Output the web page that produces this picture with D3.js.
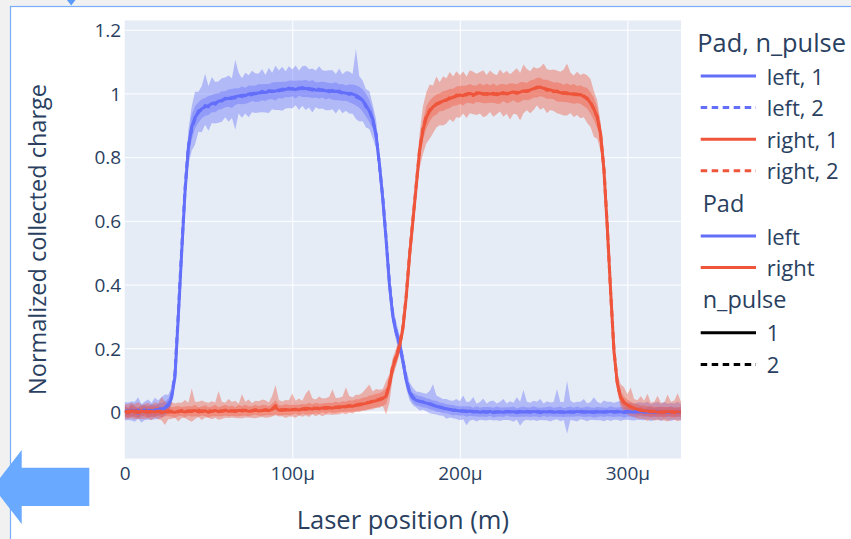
<!DOCTYPE html>
<html>
<head>
<meta charset="utf-8">
<script src="https://cdn.jsdelivr.net/npm/d3@7"></script>
<style>
  html, body { margin: 0; padding: 0; background: #f1f1f1; }
  svg { display: block; font-family: "Open Sans", "DejaVu Sans", sans-serif; }
</style>
</head>
<body>
<svg id="chart" width="851" height="539"></svg>
<script>
// Laser scan: one sample every 2 µm, from 0 to 332 µm.
const scanStepUm = 2;

// Pad "left", n_pulse 1: mean normalized charge and symmetric spread.
const leftMean1 = [
  0.004, -0.003, 0.006, 0.002, -0.004, 0.003, 0.007, 0.001, 0.005, 0.004,
  0.008, 0.01, 0.012, 0.02, 0.045, 0.11, 0.3, 0.5, 0.69, 0.83,
  0.895, 0.925, 0.94, 0.952, 0.958, 0.962, 0.968, 0.97, 0.975, 0.979,
  0.982, 0.985, 0.984, 0.99, 0.992, 0.994, 0.993, 0.998, 1.0, 0.999,
  1.002, 1.004, 1.003, 1.006, 1.008, 1.007, 1.011, 1.01, 1.013, 1.014,
  1.016, 1.012, 1.017, 1.015, 1.016, 1.013, 1.014, 1.011, 1.01, 1.012,
  1.008, 1.009, 1.006, 1.007, 1.004, 1.003, 1.001, 1.0, 0.998, 0.994,
  0.988, 0.978, 0.963, 0.945, 0.92, 0.87, 0.78, 0.67, 0.54, 0.4,
  0.3, 0.25, 0.215, 0.16, 0.1, 0.062, 0.044, 0.037, 0.034, 0.031,
  0.028, 0.025, 0.021, 0.018, 0.015, 0.012, 0.01, 0.008, 0.006, 0.005,
  0.003, 0.004, 0.001, 0.003, 0.0, 0.002, -0.001, 0.001, 0.0, 0.002,
  -0.002, 0.001, 0.0, -0.001, 0.002, 0.0, 0.001, -0.002, 0.0, 0.001,
  0.0, -0.001, 0.002, 0.0, -0.002, 0.001, 0.0, 0.002, -0.001, 0.0,
  0.001, -0.002, 0.0, 0.001, -0.001, 0.002, 0.0, -0.001, 0.001, 0.0,
  -0.002, 0.0, 0.001, -0.001, 0.0, 0.002, -0.001, 0.0, 0.001, -0.002,
  0.0, 0.001, -0.001, 0.0, 0.002, -0.001, 0.0, 0.001, -0.002, 0.0,
  0.001, 0.0, -0.001, 0.002, 0.0, -0.001, 0.001
];
const leftSpread1 = [
  0.018, 0.015, 0.02, 0.017, 0.016, 0.019, 0.015, 0.018, 0.02, 0.017,
  0.019, 0.018, 0.02, 0.022, 0.02, 0.018, 0.018, 0.02, 0.025, 0.035,
  0.04, 0.035, 0.032, 0.03, 0.028, 0.03, 0.027, 0.029, 0.026, 0.028,
  0.025, 0.027, 0.03, 0.026, 0.024, 0.028, 0.025, 0.027, 0.024, 0.026,
  0.028, 0.025, 0.027, 0.024, 0.026, 0.029, 0.025, 0.027, 0.024, 0.026,
  0.025, 0.028, 0.024, 0.026, 0.027, 0.025, 0.028, 0.024, 0.026, 0.025,
  0.027, 0.024, 0.026, 0.028, 0.025, 0.027, 0.024, 0.028, 0.03, 0.032,
  0.033, 0.035, 0.036, 0.035, 0.03, 0.025, 0.02, 0.018, 0.018, 0.018,
  0.018, 0.018, 0.02, 0.02, 0.018, 0.016, 0.016, 0.017, 0.016, 0.017,
  0.015, 0.016, 0.015, 0.017, 0.015, 0.016, 0.014, 0.015, 0.016, 0.014,
  0.015, 0.014, 0.016, 0.015, 0.013, 0.016, 0.014, 0.015, 0.016, 0.014,
  0.015, 0.016, 0.014, 0.015, 0.013, 0.015, 0.016, 0.014, 0.015, 0.016,
  0.014, 0.015, 0.016, 0.014, 0.015, 0.013, 0.016, 0.015, 0.014, 0.015,
  0.016, 0.014, 0.015, 0.016, 0.014, 0.015, 0.013, 0.015, 0.016, 0.014,
  0.015, 0.016, 0.014, 0.015, 0.013, 0.016, 0.015, 0.014, 0.015, 0.016,
  0.014, 0.015, 0.016, 0.014, 0.015, 0.013, 0.015, 0.016, 0.014, 0.015,
  0.016, 0.014, 0.015, 0.016, 0.014, 0.015, 0.014
];

// Pad "left", n_pulse 2: mean and the band's upper / lower extent from the mean.
const leftMean2 = [
  0.001, 0.005, -0.002, 0.004, 0.006, -0.001, 0.003, 0.006, 0.002, 0.007,
  0.006, 0.012, 0.015, 0.024, 0.05, 0.12, 0.31, 0.51, 0.7, 0.835,
  0.89, 0.92, 0.945, 0.948, 0.962, 0.958, 0.972, 0.966, 0.978, 0.976,
  0.985, 0.981, 0.988, 0.986, 0.995, 0.99, 0.997, 0.995, 0.996, 1.003,
  0.998, 1.007, 1.0, 1.009, 1.005, 1.012, 1.008, 1.014, 1.01, 1.017,
  1.013, 1.018, 1.014, 1.019, 1.012, 1.016, 1.01, 1.015, 1.013, 1.009,
  1.011, 1.005, 1.01, 1.003, 1.008, 1.0, 1.004, 0.997, 1.001, 0.99,
  0.984, 0.981, 0.958, 0.948, 0.915, 0.874, 0.775, 0.675, 0.545, 0.405,
  0.305, 0.253, 0.212, 0.163, 0.104, 0.065, 0.046, 0.039, 0.033, 0.032,
  0.027, 0.026, 0.022, 0.017, 0.016, 0.013, 0.009, 0.009, 0.005, 0.006,
  0.004, 0.002, 0.003, 0.001, 0.002, 0.0, 0.001, 0.002, -0.001, 0.001,
  0.001, -0.001, 0.002, 0.001, 0.0, 0.002, -0.001, 0.001, 0.002, 0.0,
  0.002, 0.001, 0.0, 0.002, 0.001, -0.001, 0.002, 0.0, 0.001, 0.002,
  -0.001, 0.001, 0.002, 0.0, 0.001, 0.0, 0.002, 0.001, -0.001, 0.001,
  0.001, 0.002, -0.001, 0.001, 0.002, 0.0, 0.001, 0.002, 0.0, 0.001,
  0.002, -0.001, 0.001, 0.002, 0.0, 0.001, 0.002, -0.001, 0.001, 0.002,
  -0.001, 0.002, 0.001, 0.0, 0.001, 0.002, 0.0
];
const leftHigh2 = [
  0.03, 0.025, 0.035, 0.028, 0.04, 0.026, 0.03, 0.033, 0.027, 0.038,
  0.03, 0.035, 0.04, 0.03, 0.028, 0.025, 0.025, 0.025, 0.03, 0.05,
  0.07, 0.085, 0.06, 0.075, 0.1, 0.065, 0.08, 0.07, 0.06, 0.072,
  0.065, 0.075, 0.06, 0.12, 0.07, 0.058, 0.068, 0.062, 0.075, 0.06,
  0.065, 0.07, 0.058, 0.072, 0.06, 0.075, 0.064, 0.07, 0.06, 0.068,
  0.062, 0.07, 0.058, 0.066, 0.075, 0.06, 0.068, 0.057, 0.072, 0.064,
  0.06, 0.068, 0.063, 0.058, 0.07, 0.06, 0.066, 0.072, 0.06, 0.15,
  0.07, 0.06, 0.055, 0.06, 0.05, 0.045, 0.035, 0.03, 0.03, 0.03,
  0.03, 0.03, 0.03, 0.03, 0.03, 0.028, 0.03, 0.025, 0.03, 0.028,
  0.03, 0.04, 0.065, 0.035, 0.03, 0.028, 0.032, 0.027, 0.03, 0.035,
  0.03, 0.05, 0.028, 0.032, 0.045, 0.026, 0.03, 0.04, 0.028, 0.033,
  0.035, 0.028, 0.03, 0.04, 0.027, 0.032, 0.03, 0.045, 0.03, 0.07,
  0.03, 0.028, 0.035, 0.03, 0.04, 0.028, 0.032, 0.03, 0.03, 0.07,
  0.032, 0.03, 0.095, 0.035, 0.028, 0.032, 0.03, 0.04, 0.028, 0.03,
  0.045, 0.03, 0.028, 0.035, 0.03, 0.032, 0.028, 0.03, 0.035, 0.03,
  0.028, 0.03, 0.025, 0.028, 0.03, 0.027, 0.03, 0.025, 0.028, 0.03,
  0.027, 0.03, 0.025, 0.028, 0.026, 0.03, 0.025
];
const leftLow2 = [
  0.028, 0.03, 0.025, 0.035, 0.027, 0.032, 0.028, 0.03, 0.026, 0.03,
  0.028, 0.03, 0.027, 0.025, 0.025, 0.025, 0.025, 0.03, 0.04, 0.06,
  0.07, 0.08, 0.065, 0.07, 0.06, 0.075, 0.065, 0.06, 0.07, 0.065,
  0.06, 0.07, 0.065, 0.1, 0.058, 0.066, 0.06, 0.07, 0.055, 0.064,
  0.058, 0.066, 0.06, 0.07, 0.055, 0.064, 0.06, 0.068, 0.057, 0.063,
  0.06, 0.055, 0.066, 0.058, 0.064, 0.06, 0.07, 0.058, 0.062, 0.056,
  0.064, 0.058, 0.06, 0.066, 0.056, 0.062, 0.058, 0.06, 0.065, 0.07,
  0.072, 0.068, 0.065, 0.06, 0.055, 0.045, 0.035, 0.03, 0.03, 0.03,
  0.03, 0.03, 0.028, 0.03, 0.03, 0.028, 0.025, 0.025, 0.028, 0.025,
  0.025, 0.03, 0.028, 0.025, 0.027, 0.025, 0.03, 0.026, 0.025, 0.028,
  0.03, 0.025, 0.045, 0.028, 0.026, 0.03, 0.025, 0.028, 0.026, 0.025,
  0.028, 0.025, 0.03, 0.026, 0.025, 0.028, 0.03, 0.025, 0.045, 0.028,
  0.026, 0.028, 0.025, 0.03, 0.026, 0.025, 0.028, 0.03, 0.026, 0.025,
  0.028, 0.026, 0.07, 0.025, 0.028, 0.03, 0.025, 0.026, 0.028, 0.025,
  0.026, 0.028, 0.025, 0.03, 0.026, 0.028, 0.025, 0.026, 0.028, 0.025,
  0.026, 0.025, 0.028, 0.026, 0.025, 0.027, 0.025, 0.028, 0.026, 0.025,
  0.027, 0.025, 0.026, 0.028, 0.025, 0.026, 0.027
];

// Pad "right", n_pulse 1: mean and symmetric spread.
const rightMean1 = [
  0.002, -0.003, 0.004, 0.0, -0.002, 0.003, 0.001, -0.001, 0.002, 0.0,
  0.003, -0.002, 0.001, 0.004, 0.0, -0.001, 0.003, 0.002, 0.0, 0.004,
  0.001, 0.005, 0.0, 0.003, 0.004, -0.001, 0.002, 0.005, 0.001, 0.003,
  0.006, 0.002, 0.004, 0.001, 0.005, 0.003, 0.006, 0.002, 0.004, 0.007,
  0.003, 0.005, 0.006, 0.004, 0.008, 0.015, 0.006, 0.005, 0.008, 0.006,
  0.007, 0.009, 0.006, 0.01, 0.008, 0.011, 0.009, 0.012, 0.01, 0.013,
  0.011, 0.014, 0.012, 0.015, 0.014, 0.017, 0.016, 0.019, 0.018, 0.021,
  0.022, 0.025, 0.027, 0.03, 0.033, 0.035, 0.038, 0.042, 0.05, 0.085,
  0.14, 0.17, 0.205, 0.26, 0.36, 0.49, 0.6, 0.71, 0.82, 0.885,
  0.925, 0.945, 0.958, 0.965, 0.972, 0.976, 0.98, 0.984, 0.988, 0.992,
  0.995, 0.993, 0.998, 1.0, 0.996, 0.999, 1.002, 0.997, 1.0, 0.998,
  1.001, 0.996, 0.999, 1.003, 0.998, 1.002, 1.005, 1.0, 1.004, 1.008,
  1.006, 1.011, 1.015, 1.018, 1.02, 1.016, 1.013, 1.011, 1.008, 1.005,
  1.003, 1.0, 1.002, 0.998, 0.999, 0.996, 0.997, 0.99, 0.985, 0.97,
  0.952, 0.925, 0.875, 0.76, 0.58, 0.38, 0.19, 0.09, 0.045, 0.03,
  0.022, 0.016, 0.012, 0.008, 0.006, 0.004, 0.003, 0.001, 0.002, 0.0,
  0.001, -0.001, 0.002, 0.0, -0.002, 0.001, 0.0
];
const rightSpread1 = [
  0.016, 0.014, 0.018, 0.015, 0.017, 0.014, 0.016, 0.018, 0.015, 0.017,
  0.015, 0.016, 0.014, 0.017, 0.015, 0.018, 0.016, 0.014, 0.017, 0.015,
  0.016, 0.018, 0.015, 0.014, 0.017, 0.016, 0.015, 0.018, 0.014, 0.016,
  0.017, 0.015, 0.016, 0.014, 0.018, 0.015, 0.017, 0.016, 0.014, 0.016,
  0.015, 0.017, 0.016, 0.014, 0.018, 0.022, 0.016, 0.015, 0.017, 0.016,
  0.016, 0.014, 0.017, 0.015, 0.016, 0.018, 0.015, 0.017, 0.016, 0.014,
  0.017, 0.015, 0.016, 0.018, 0.015, 0.017, 0.016, 0.018, 0.017, 0.019,
  0.018, 0.02, 0.019, 0.021, 0.02, 0.022, 0.021, 0.023, 0.025, 0.025,
  0.022, 0.02, 0.02, 0.02, 0.02, 0.02, 0.02, 0.022, 0.025, 0.03,
  0.035, 0.033, 0.03, 0.032, 0.028, 0.031, 0.029, 0.03, 0.027, 0.03,
  0.028, 0.031, 0.027, 0.03, 0.029, 0.026, 0.03, 0.028, 0.031, 0.027,
  0.03, 0.028, 0.031, 0.027, 0.029, 0.03, 0.026, 0.029, 0.031, 0.028,
  0.027, 0.03, 0.028, 0.031, 0.029, 0.027, 0.03, 0.028, 0.026, 0.03,
  0.029, 0.027, 0.03, 0.028, 0.031, 0.027, 0.029, 0.03, 0.032, 0.034,
  0.035, 0.033, 0.03, 0.025, 0.02, 0.02, 0.02, 0.02, 0.02, 0.018,
  0.017, 0.016, 0.015, 0.017, 0.014, 0.016, 0.015, 0.017, 0.014, 0.016,
  0.015, 0.017, 0.014, 0.016, 0.015, 0.014, 0.016
];

// Pad "right", n_pulse 2: mean and the band's upper / lower extent from the mean.
const rightMean2 = [
  -0.001, 0.003, 0.0, 0.005, 0.001, -0.002, 0.004, 0.002, -0.001, 0.003,
  0.001, 0.002, 0.004, -0.001, 0.003, 0.002, 0.0, 0.005, 0.003, 0.001,
  0.004, 0.002, 0.006, 0.001, 0.003, 0.005, 0.002, 0.004, 0.006, 0.002,
  0.004, 0.006, 0.003, 0.005, 0.002, 0.006, 0.004, 0.007, 0.003, 0.005,
  0.006, 0.004, 0.007, 0.005, 0.01, 0.02, 0.008, 0.007, 0.006, 0.009,
  0.008, 0.007, 0.01, 0.009, 0.012, 0.01, 0.013, 0.011, 0.014, 0.012,
  0.015, 0.013, 0.016, 0.014, 0.017, 0.016, 0.018, 0.02, 0.019, 0.022,
  0.024, 0.026, 0.029, 0.031, 0.034, 0.037, 0.04, 0.044, 0.052, 0.09,
  0.145, 0.175, 0.21, 0.265, 0.365, 0.495, 0.605, 0.715, 0.825, 0.89,
  0.928, 0.948, 0.955, 0.968, 0.97, 0.979, 0.978, 0.987, 0.985, 0.995,
  0.992, 0.997, 0.995, 1.003, 0.993, 1.002, 0.999, 1.0, 0.996, 1.002,
  0.997, 0.999, 1.003, 0.999, 1.001, 0.998, 1.002, 1.004, 1.0, 1.006,
  1.009, 1.008, 1.013, 1.02, 1.017, 1.019, 1.01, 1.014, 1.005, 1.008,
  1.0, 1.003, 0.999, 1.001, 0.996, 0.998, 0.994, 0.993, 0.982, 0.975,
  0.948, 0.928, 0.87, 0.765, 0.585, 0.375, 0.195, 0.088, 0.047, 0.028,
  0.021, 0.017, 0.011, 0.009, 0.005, 0.005, 0.002, 0.002, 0.001, 0.001,
  -0.001, 0.001, 0.0, 0.002, 0.001, -0.001, 0.001
];
const rightHigh2 = [
  0.025, 0.022, 0.028, 0.02, 0.03, 0.024, 0.022, 0.027, 0.023, 0.028,
  0.025, 0.045, 0.03, 0.022, 0.028, 0.025, 0.03, 0.024, 0.035, 0.028,
  0.07, 0.03, 0.026, 0.035, 0.028, 0.024, 0.032, 0.026, 0.06, 0.03,
  0.025, 0.035, 0.028, 0.03, 0.024, 0.05, 0.028, 0.032, 0.025, 0.03,
  0.028, 0.035, 0.03, 0.025, 0.04, 0.065, 0.03, 0.026, 0.032, 0.028,
  0.05, 0.028, 0.032, 0.026, 0.045, 0.06, 0.03, 0.028, 0.035, 0.03,
  0.028, 0.035, 0.055, 0.03, 0.028, 0.033, 0.06, 0.03, 0.027, 0.032,
  0.03, 0.035, 0.045, 0.055, 0.03, 0.035, 0.03, 0.028, 0.045, 0.03,
  0.025, 0.025, 0.025, 0.025, 0.025, 0.025, 0.028, 0.035, 0.05, 0.07,
  0.075, 0.08, 0.07, 0.085, 0.065, 0.075, 0.07, 0.08, 0.068, 0.075,
  0.065, 0.072, 0.058, 0.07, 0.075, 0.06, 0.068, 0.073, 0.062, 0.07,
  0.066, 0.058, 0.072, 0.064, 0.07, 0.062, 0.068, 0.075, 0.065, 0.085,
  0.068, 0.062, 0.07, 0.058, 0.065, 0.075, 0.066, 0.06, 0.07, 0.064,
  0.068, 0.072, 0.095, 0.065, 0.06, 0.07, 0.064, 0.07, 0.075, 0.07,
  0.06, 0.05, 0.04, 0.03, 0.025, 0.025, 0.025, 0.03, 0.04, 0.05,
  0.035, 0.06, 0.03, 0.028, 0.045, 0.03, 0.055, 0.028, 0.03, 0.05,
  0.03, 0.028, 0.055, 0.03, 0.035, 0.06, 0.03
];
const rightLow2 = [
  0.022, 0.025, 0.02, 0.028, 0.023, 0.02, 0.026, 0.022, 0.025, 0.02,
  0.024, 0.028, 0.045, 0.022, 0.025, 0.02, 0.03, 0.024, 0.022, 0.026,
  0.035, 0.024, 0.022, 0.026, 0.02, 0.023, 0.025, 0.022, 0.03, 0.024,
  0.022, 0.025, 0.02, 0.024, 0.022, 0.026, 0.021, 0.024, 0.022, 0.025,
  0.023, 0.02, 0.025, 0.022, 0.024, 0.03, 0.022, 0.02, 0.025, 0.023,
  0.022, 0.025, 0.021, 0.024, 0.022, 0.026, 0.02, 0.024, 0.022, 0.025,
  0.023, 0.021, 0.025, 0.022, 0.024, 0.02, 0.025, 0.022, 0.024, 0.021,
  0.024, 0.022, 0.025, 0.023, 0.026, 0.024, 0.027, 0.025, 0.06, 0.06,
  0.035, 0.03, 0.028, 0.028, 0.03, 0.03, 0.03, 0.04, 0.06, 0.08,
  0.085, 0.09, 0.08, 0.075, 0.07, 0.08, 0.072, 0.068, 0.075, 0.07,
  0.068, 0.06, 0.072, 0.065, 0.058, 0.07, 0.062, 0.075, 0.066, 0.06,
  0.07, 0.064, 0.06, 0.072, 0.065, 0.08, 0.066, 0.07, 0.085, 0.068,
  0.062, 0.07, 0.065, 0.058, 0.068, 0.064, 0.072, 0.066, 0.06, 0.07,
  0.065, 0.072, 0.068, 0.062, 0.07, 0.066, 0.072, 0.068, 0.075, 0.08,
  0.085, 0.07, 0.05, 0.035, 0.025, 0.025, 0.025, 0.025, 0.03, 0.03,
  0.028, 0.03, 0.025, 0.03, 0.026, 0.028, 0.03, 0.025, 0.028, 0.026,
  0.025, 0.028, 0.03, 0.026, 0.025, 0.028, 0.026
];

// Axis ticks and legend categories.
const positionTicks = [0, 100e-6, 200e-6, 300e-6];
const chargeTicks = [0, 0.2, 0.4, 0.6, 0.8, 1, 1.2];
const pads = ["left", "right"];
const nPulses = [1, 2];

// ---- drawing ----
const W = 851, H = 539;
const padColor = { left: "#636efa", right: "#ef553b" };
const textColor = "#2a3f5f";
const plot = { left: 124.7, right: 681, top: 20.5, bottom: 458.5 };

const series = [
  { pad: "left",  n: 1, mean: leftMean1,  hi: leftSpread1,  lo: leftSpread1 },
  { pad: "left",  n: 2, mean: leftMean2,  hi: leftHigh2,    lo: leftLow2 },
  { pad: "right", n: 1, mean: rightMean1, hi: rightSpread1, lo: rightSpread1 },
  { pad: "right", n: 2, mean: rightMean2, hi: rightHigh2,   lo: rightLow2 }
].map(s => ({
  ...s,
  points: s.mean.map((m, i) => ({
    x: i * scanStepUm * 1e-6,
    y: m,
    lo: m - s.lo[i],
    hi: m + s.hi[i]
  }))
}));

const xMax = d3.max(series[0].points, d => d.x);
const x = d3.scaleLinear().domain([0, xMax]).range([plot.left, plot.right]);
const y = d3.scaleLinear().domain([-0.146, 1.229]).range([plot.bottom, plot.top]);

const svg = d3.select("#chart");

// Page frame around the figure.
svg.append("rect").attr("width", W).attr("height", H).attr("fill", "#f1f1f1");
svg.append("rect")
  .attr("x", 10.5).attr("y", 6.5).attr("width", W).attr("height", H)
  .attr("fill", "#ffffff").attr("stroke", "#78aefc").attr("stroke-width", 1.2);
svg.append("path").attr("d", "M67,0 L75.5,0 L71.2,5.5 Z").attr("fill", "#5b9cf8");

// Plot background.
svg.append("rect")
  .attr("x", plot.left).attr("y", plot.top)
  .attr("width", plot.right - plot.left).attr("height", plot.bottom - plot.top)
  .attr("fill", "#e5ecf6");

// Axes with full-width grid lines.
const fontStack = '"Open Sans", "DejaVu Sans", sans-serif';
const yAxis = d3.axisLeft(y)
  .tickValues(chargeTicks)
  .tickSize(-(plot.right - plot.left))
  .tickPadding(3.5)
  .tickFormat(d3.format("~g"));
const gy = svg.append("g")
  .attr("transform", `translate(${plot.left},0)`)
  .call(yAxis)
  .attr("font-family", fontStack).attr("font-size", 19);
gy.select(".domain").remove();
gy.selectAll(".tick line").attr("stroke", "#ffffff").attr("stroke-width", d => d === 0 ? 2 : 1);
gy.selectAll(".tick text").attr("fill", textColor).attr("dy", "0.36em");

const xAxis = d3.axisBottom(x)
  .tickValues(positionTicks)
  .tickSize(-(plot.bottom - plot.top))
  .tickPadding(8.5)
  .tickFormat(v => v === 0 ? "0" : d3.format("~s")(v).replace("\u00b5", "\u03bc"));
const gx = svg.append("g")
  .attr("transform", `translate(0,${plot.bottom})`)
  .call(xAxis)
  .attr("font-family", fontStack).attr("font-size", 19);
gx.select(".domain").remove();
gx.selectAll(".tick line").attr("stroke", "#ffffff").attr("stroke-width", 1)
  .attr("stroke-opacity", d => d === 0 ? 0 : 1);
gx.selectAll(".tick text").attr("fill", textColor);

// Data: shaded band then line for each pad / n_pulse.
svg.append("clipPath").attr("id", "plot-clip")
  .append("rect")
  .attr("x", plot.left).attr("y", plot.top)
  .attr("width", plot.right - plot.left).attr("height", plot.bottom - plot.top);
const dataLayer = svg.append("g").attr("clip-path", "url(#plot-clip)");

const band = d3.area().x(d => x(d.x)).y0(d => y(d.lo)).y1(d => y(d.hi));
const line = d3.line().x(d => x(d.x)).y(d => y(d.y));
const dashPattern = "6.5,4.5";

series.forEach(s => {
  dataLayer.append("path")
    .attr("d", band(s.points))
    .attr("fill", padColor[s.pad]).attr("fill-opacity", 0.4)
    .attr("stroke", "none");
});
series.forEach(s => {
  dataLayer.append("path")
    .attr("d", line(s.points))
    .attr("fill", "none")
    .attr("stroke", padColor[s.pad]).attr("stroke-width", 3)
    .attr("stroke-linejoin", "round")
    .attr("stroke-dasharray", s.n === 2 ? dashPattern : null);
});

// Axis titles.
svg.append("text")
  .attr("x", (plot.left + plot.right) / 2).attr("y", 529)
  .attr("text-anchor", "middle").attr("font-size", 25.5).attr("fill", textColor)
  .text("Laser position (m)");
svg.append("text")
  .attr("transform", `translate(46,${(plot.top + plot.bottom) / 2}) rotate(-90)`)
  .attr("text-anchor", "middle").attr("font-size", 23.5).attr("fill", textColor)
  .text("Normalized collected charge");

// Legend: combined entries, then one group per variable.
const legendGroups = [
  { title: "Pad, n_pulse", titleX: 697.3, titleSize: 25.4,
    items: pads.flatMap(p => nPulses.map(n => ({ label: `${p}, ${n}`, color: padColor[p], dashed: n === 2 }))) },
  { title: "Pad", titleX: 702.7, titleSize: 23.5,
    items: pads.map(p => ({ label: p, color: padColor[p], dashed: false })) },
  { title: "n_pulse", titleX: 702.7, titleSize: 23.5,
    items: nPulses.map(n => ({ label: String(n), color: "#000000", dashed: n === 2 })) }
];
const legend = svg.append("g").attr("fill", textColor);
let rowY = 76;
legendGroups.forEach(g => {
  legend.append("text")
    .attr("x", g.titleX).attr("y", rowY - 24.4)
    .attr("font-size", g.titleSize).text(g.title);
  g.items.forEach(it => {
    legend.append("line")
      .attr("x1", 700.7).attr("x2", 756).attr("y1", rowY).attr("y2", rowY)
      .attr("stroke", it.color).attr("stroke-width", 3)
      .attr("stroke-dasharray", it.dashed ? dashPattern : null);
    legend.append("text")
      .attr("x", 766.7).attr("y", rowY + 8.6)
      .attr("font-size", 22).text(it.label);
    rowY += 31.6;
  });
  rowY += 65.2 - 31.6;
});

// Navigation arrow in the lower-left corner of the frame.
svg.append("polygon")
  .attr("points", "89.3,467.7 21.7,467.7 21.7,450 -7,487 21.7,524 21.7,506 89.3,506")
  .attr("fill", "#69a9ff");
</script>
</body>
</html>
